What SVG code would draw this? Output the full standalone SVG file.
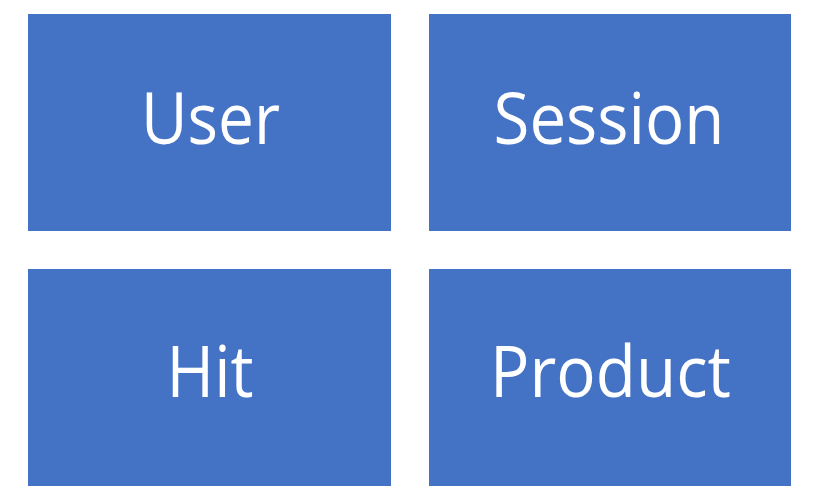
<svg xmlns="http://www.w3.org/2000/svg" width="821" height="503" viewBox="0 0 821 503">
<style>
.box{fill:#4472C4}
.lbl{fill:#fff;font-family:"Open Sans","Noto Sans","Liberation Sans",sans-serif;font-size:71px;text-anchor:middle}
</style>
<rect width="821" height="503" fill="#fff"/>
<g id="user"><rect class="box" x="28" y="14" width="363" height="217"/><text class="lbl" x="210.5" y="144" textLength="139" lengthAdjust="spacingAndGlyphs">User</text></g>
<g id="session"><rect class="box" x="429" y="14" width="362" height="217"/><text class="lbl" x="609" y="144" textLength="231" lengthAdjust="spacingAndGlyphs">Session</text></g>
<g id="hit"><rect class="box" x="28" y="269" width="363" height="217"/><text class="lbl" x="210" y="397" textLength="87" lengthAdjust="spacingAndGlyphs">Hit</text></g>
<g id="product"><rect class="box" x="429" y="269" width="362" height="217"/><text class="lbl" x="610.5" y="397" textLength="241" lengthAdjust="spacingAndGlyphs">Product</text></g>
<g id="connectors"></g>
</svg>
